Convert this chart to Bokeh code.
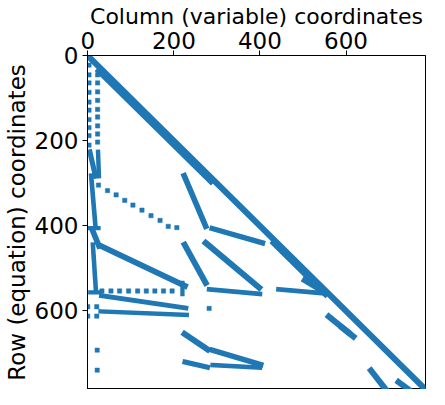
import numpy as np
from bokeh.plotting import figure
from bokeh.models import Range1d, FixedTicker, ColumnDataSource
from bokeh.embed import file_html
from bokeh.resources import INLINE

N = 785
ticks = [0, 200, 400, 600]

# dense runs of nonzeros: start (row, col) -> end (row, col)
run_r0 = [0, 36, 226, 226, 282, 405, 410, 447, 444, 556, 534, 564, 601, 282, 444, 406, 440, 549, 549, 440, 654, 692, 720, 727, 613, 640, 740, 767, 528]
run_c0 = [0, 26, 5, 24, 8, 5, 11, 30, 12, 6, 220, 32, 30, 224, 225, 289, 274, 282, 443, 432, 225, 289, 226, 290, 560, 592, 658, 722, 504]
run_r1 = [784, 295, 283, 283, 401, 405, 447, 541, 552, 556, 560, 593, 609, 401, 534, 440, 545, 560, 558, 560, 690, 726, 732, 733, 650, 660, 784, 784, 556]
run_c1 = [784, 286, 18, 26, 18, 25, 26, 226, 19, 28, 220, 228, 230, 274, 274, 406, 398, 400, 545, 552, 278, 402, 278, 400, 605, 617, 692, 745, 550]

# isolated nonzeros
pt_rows = ([22, 45, 64, 86, 109, 128, 150, 169, 188, 210]
           + [45, 64, 85, 105, 126, 144, 165, 184, 203]
           + [304, 317, 327, 340, 351, 363, 376, 387, 401, 404]
           + [553] * 9
           + [594, 590, 612, 590, 612, 692, 739])
pt_cols = ([3] * 10
           + [23] * 9
           + [25, 46, 66, 86, 105, 126, 147, 168, 187, 207]
           + [33, 54, 74, 95, 116, 136, 156, 176, 196]
           + [282, 0, 0, 21, 21, 22, 22])

BLUE = "#1f77b4"
MS = 4.3  # marker size in px

p = figure(width=429, height=389, output_backend="svg", toolbar_location=None,
           x_axis_location="above", y_axis_location="left",
           x_range=Range1d(-0.5, N - 0.5), y_range=Range1d(N - 0.5, -0.5),
           min_border_left=84, min_border_right=4, min_border_top=40, min_border_bottom=0)
p.grid.visible = False
p.outline_line_color = "black"
p.outline_line_width = 1
p.background_fill_color = "white"
p.border_fill_color = "white"

r0 = np.array(run_r0, float); c0 = np.array(run_c0, float)
r1 = np.array(run_r1, float); c1 = np.array(run_c1, float)
ang = np.arctan2(r1 - r0, c1 - c0)
widths = MS * (np.abs(np.cos(ang)) + np.abs(np.sin(ang)))
src = ColumnDataSource(dict(x0=c0, y0=r0, x1=c1, y1=r1, w=widths))
p.segment(x0="x0", y0="y0", x1="x1", y1="y1", line_width="w", line_color=BLUE,
          line_cap="square", source=src)
p.scatter(x=pt_cols, y=pt_rows, marker="square", size=MS, fill_color=BLUE,
          line_color=BLUE, line_width=0.5)

for ax in (p.xaxis[0], p.yaxis[0]):
    ax.ticker = FixedTicker(ticks=ticks)
    ax.minor_tick_line_color = None
    ax.major_tick_in = 0
    ax.major_tick_out = 5
    ax.major_tick_line_color = "black"
    ax.axis_line_color = "black"
    ax.major_label_text_font = "DejaVu Sans"
    ax.major_label_text_font_size = "23px"
    ax.major_label_text_color = "black"
    ax.axis_label_text_font = "DejaVu Sans"
    ax.axis_label_text_font_style = "normal"
    ax.axis_label_text_color = "black"

p.xaxis[0].axis_label = "Column (variable) coordinates"
p.xaxis[0].axis_label_text_font_size = "22px"
p.yaxis[0].axis_label = "Row (equation) coordinates"
p.yaxis[0].axis_label_text_font_size = "23px"
p.xaxis[0].major_label_standoff = 2
p.xaxis[0].axis_label_standoff = 0
p.yaxis[0].major_label_standoff = 4
p.yaxis[0].axis_label_standoff = 2

open("out.html", "w").write(file_html(p, INLINE))
